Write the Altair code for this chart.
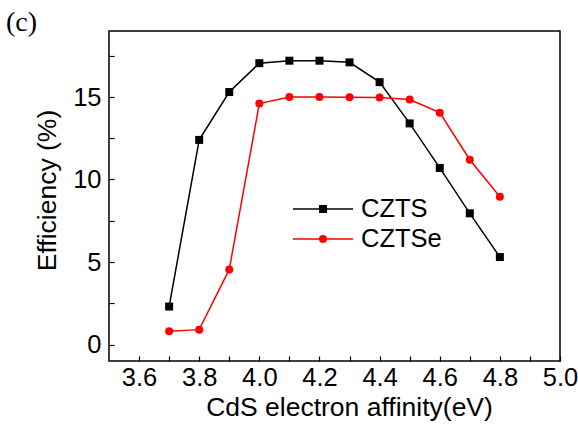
import altair as alt
import pandas as pd

# CdS electron affinity (eV) and simulated cell efficiency (%)
affinity = [3.7, 3.8, 3.9, 4.0, 4.1, 4.2, 4.3, 4.4, 4.5, 4.6, 4.7, 4.8]
eff_czts = [2.3, 12.4, 15.3, 17.05, 17.2, 17.2, 17.1, 15.9, 13.4, 10.7, 7.95, 5.3]
eff_cztse = [0.8, 0.9, 4.55, 14.6, 15.0, 15.0, 14.98, 14.97, 14.85, 14.05, 11.2, 8.95]

series_names = ["CZTS", "CZTSe"]
series_colors = ["#000000", "#ff0000"]
series_shapes = ["square", "circle"]

x_ticks = [3.6, 3.7, 3.8, 3.9, 4.0, 4.1, 4.2, 4.3, 4.4, 4.5, 4.6, 4.7, 4.8, 4.9, 5.0]
y_ticks = [0, 2.5, 5, 7.5, 10, 12.5, 15, 17.5]

df = pd.concat([
    pd.DataFrame({"affinity": affinity, "eff": eff_czts, "series": "CZTS"}),
    pd.DataFrame({"affinity": affinity, "eff": eff_cztse, "series": "CZTSe"}),
])

FONT = "Liberation Sans"

x_enc = alt.X(
    "affinity:Q",
    scale=alt.Scale(domain=[3.5, 5.0], nice=False, zero=False),
    axis=alt.Axis(
        title="CdS electron affinity(eV)",
        values=x_ticks,
        labelExpr="round(datum.value * 10) % 2 == 0 ? format(datum.value, '.1f') : ''",
        grid=False, domain=False, offset=-5, tickSize=5, tickColor="black",
        tickWidth=1.2, labelPadding=4, labelFlush=False, labelFontSize=25.5,
        labelFont=FONT, labelColor="black", titleFont=FONT, titleFontSize=26.5,
        titleFontWeight="normal", titleColor="black", titlePadding=4,
        titleX=240, titleAlign="center",
    ),
)
y_enc = alt.Y(
    "eff:Q",
    scale=alt.Scale(domain=[-1, 19], nice=False, zero=False),
    axis=alt.Axis(
        title="Efficiency (%)",
        values=y_ticks,
        labelExpr="datum.value % 5 == 0 ? format(datum.value, 'd') : ''",
        grid=False, domain=False, offset=-5, tickSize=5, tickColor="black",
        tickWidth=1.2, labelPadding=8, labelFontSize=25.5, labelFont=FONT,
        labelColor="black", titleFont=FONT, titleFontSize=26.5,
        titleFontWeight="normal", titleColor="black", titlePadding=11,
        titleY=159,
    ),
)
color_enc = alt.Color("series:N", scale=alt.Scale(domain=series_names, range=series_colors), legend=None)
shape_enc = alt.Shape("series:N", scale=alt.Scale(domain=series_names, range=series_shapes), legend=None)

lines = alt.Chart(df).mark_line(strokeWidth=1.5).encode(
    x=x_enc, y=y_enc, color=color_enc, detail="series:N"
)
points = alt.Chart(df).mark_point(filled=True, size=64, opacity=1).encode(
    x=x_enc, y=y_enc, color=color_enc, shape=shape_enc
)

# Hand-placed legend inside the plot area
leg = pd.DataFrame({"series": series_names, "row": [0, 1]})
leg_y = [178, 208]
legend_layers = []
for i, name in enumerate(series_names):
    one = leg[leg["series"] == name]
    legend_layers.append(
        alt.Chart(one).mark_rule(color=series_colors[i], strokeWidth=1.5).encode(
            x=alt.value(184), x2=alt.value(244), y=alt.value(leg_y[i])
        )
    )
    legend_layers.append(
        alt.Chart(one).mark_point(filled=True, size=64, opacity=1, color=series_colors[i],
                                  shape=series_shapes[i]).encode(
            x=alt.value(214), y=alt.value(leg_y[i])
        )
    )
    legend_layers.append(
        alt.Chart(one).mark_text(align="left", baseline="middle", font=FONT, fontSize=25.5,
                                 color="black").encode(
            x=alt.value(252), y=alt.value(leg_y[i]), text="series:N"
        )
    )

panel = alt.Chart(pd.DataFrame({"label": ["(c)"]})).mark_text(
    align="left", baseline="alphabetic", font="Liberation Serif", fontSize=28, color="black"
).encode(x=alt.value(-103), y=alt.value(0), text="label:N")

chart = alt.layer(lines, points, *legend_layers, panel).properties(
    width=451,
    height=330,
    padding={"left": 109, "top": 31, "right": 18, "bottom": 67},
    autosize=alt.AutoSizeParams(type="none"),
    background="white",
).configure_view(stroke="black", strokeWidth=1.5)

chart.save("out.html", embed_options={"renderer": "svg", "actions": False})
